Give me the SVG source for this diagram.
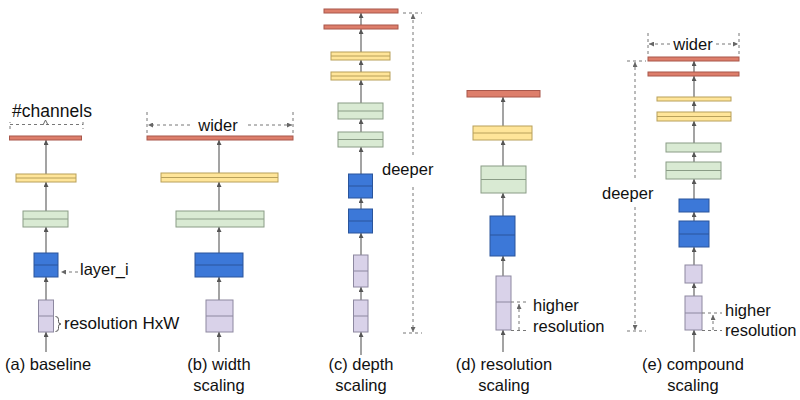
<svg xmlns="http://www.w3.org/2000/svg" width="800" height="400" viewBox="0 0 800 400">
<defs>
<marker id="ah" viewBox="0 0 6 6" refX="6" refY="3" markerWidth="5" markerHeight="5" markerUnits="userSpaceOnUse" orient="auto"><path d="M0,0 L6,3 L0,6 z" fill="#555"/></marker>
<marker id="dh" viewBox="0 0 6 6" refX="6" refY="3" markerWidth="5" markerHeight="5" markerUnits="userSpaceOnUse" orient="auto"><path d="M0,0 L6,3 L0,6 z" fill="#666"/></marker>
<style>
.red{fill:#dd7e6b;stroke:#a8574b;stroke-width:1}
.yel{fill:#ffe599;stroke:#b8a05a;stroke-width:1}
.grn{fill:#d9ead3;stroke:#8a9c86;stroke-width:1}
.blu{fill:#3c78d8;stroke:#2a559c;stroke-width:1}
.lav{fill:#d9d2e9;stroke:#8d88a0;stroke-width:1}
.mid{stroke-width:1;fill:none}
.conn line{stroke:#666;stroke-width:1.2;marker-end:url(#ah)}
.dash{stroke:#777;stroke-width:1;stroke-dasharray:3,3;fill:none}
.dashA{stroke:#777;stroke-width:1;stroke-dasharray:3,3;fill:none;marker-end:url(#dh)}
text{font-family:"Liberation Sans",Arial,sans-serif;font-size:16.5px;fill:#111}
.c{text-anchor:middle}
</style>
</defs>
<rect width="800" height="400" fill="#fff"/>

<!-- connectors -->
<g id="connectors" class="conn">
<!-- a -->
<line x1="46" y1="352" x2="46" y2="332"/>
<line x1="46" y1="300" x2="46" y2="277"/>
<line x1="46" y1="253" x2="46" y2="227"/>
<line x1="46" y1="211" x2="46" y2="182"/>
<line x1="46" y1="174" x2="46" y2="140"/>
<!-- b -->
<line x1="219" y1="352" x2="219" y2="332"/>
<line x1="219" y1="300" x2="219" y2="277"/>
<line x1="219" y1="253" x2="219" y2="227"/>
<line x1="219" y1="211" x2="219" y2="182"/>
<line x1="219" y1="173" x2="219" y2="140"/>
<!-- c -->
<line x1="361" y1="355" x2="361" y2="332"/>
<line x1="361" y1="300" x2="361" y2="287"/>
<line x1="361" y1="255" x2="361" y2="233"/>
<line x1="361" y1="209" x2="361" y2="198"/>
<line x1="361" y1="174" x2="361" y2="147"/>
<line x1="361" y1="132" x2="361" y2="119"/>
<line x1="361" y1="103" x2="361" y2="80"/>
<line x1="361" y1="72" x2="361" y2="60"/>
<line x1="361" y1="52" x2="361" y2="29"/>
<line x1="361" y1="25" x2="361" y2="13"/>
<!-- d -->
<line x1="503" y1="352" x2="503" y2="330"/>
<line x1="503" y1="276" x2="503" y2="256"/>
<line x1="503" y1="216" x2="503" y2="193"/>
<line x1="503" y1="166" x2="503" y2="140"/>
<line x1="503" y1="126" x2="503" y2="97"/>
<!-- e -->
<line x1="694" y1="352" x2="694" y2="330"/>
<line x1="694" y1="296" x2="694" y2="283"/>
<line x1="694" y1="265" x2="694" y2="247"/>
<line x1="694" y1="221" x2="694" y2="212"/>
<line x1="694" y1="199" x2="694" y2="179"/>
<line x1="694" y1="162" x2="694" y2="152"/>
<line x1="694" y1="143" x2="694" y2="121"/>
<line x1="694" y1="112" x2="694" y2="101"/>
<line x1="694" y1="97" x2="694" y2="76"/>
<line x1="694" y1="72" x2="694" y2="61"/>
</g>

<!-- (a) baseline -->
<g id="a-red"><rect class="red" x="9.5" y="136" width="72" height="4"/></g>
<g id="a-yellow"><rect class="yel" x="16" y="174" width="60" height="8"/><line class="mid" stroke="#b8a05a" x1="16" y1="178" x2="76" y2="178"/></g>
<g id="a-green"><rect class="grn" x="23" y="211" width="45" height="16"/><line class="mid" stroke="#8a9c86" x1="23" y1="219" x2="68" y2="219"/></g>
<g id="a-blue"><rect class="blu" x="34" y="253" width="24" height="24"/><line class="mid" stroke="#2a559c" x1="34" y1="265" x2="58" y2="265"/></g>
<g id="a-lav"><rect class="lav" x="38.5" y="300" width="15" height="32"/><line class="mid" stroke="#8d88a0" x1="38.5" y1="316" x2="53.5" y2="316"/></g>
<g id="a-annot">
<path class="dash" d="M10,129 V122 M10,124.5 H83 M83,122 V129"/>
<path d="M43,125 L45.5,120 L48,125" fill="none" stroke="#666" stroke-width="1"/>
<text class="c" x="52" y="117" style="font-size:17.5px">#channels</text>
<line class="dashA" x1="78" y1="272" x2="61" y2="272"/>
<text x="80" y="275">layer_i</text>
<path d="M55.5,316.5 q3,0 3,3 v2 q0,2.5 2.5,2.5 q-2.5,0 -2.5,2.5 v2 q0,3 -3,3" fill="none" stroke="#555" stroke-width="1"/>
<text x="64" y="329" style="font-size:17px">resolution HxW</text>
<text x="5" y="370">(a) baseline</text>
</g>

<!-- (b) width scaling -->
<g id="b-red"><rect class="red" x="147" y="136" width="146" height="4"/></g>
<g id="b-yellow"><rect class="yel" x="161" y="173" width="117" height="9"/><line class="mid" stroke="#b8a05a" x1="161" y1="177.5" x2="278" y2="177.5"/></g>
<g id="b-green"><rect class="grn" x="176" y="211" width="88" height="16"/><line class="mid" stroke="#8a9c86" x1="176" y1="219" x2="264" y2="219"/></g>
<g id="b-blue"><rect class="blu" x="195" y="253" width="48" height="24"/><line class="mid" stroke="#2a559c" x1="195" y1="265" x2="243" y2="265"/></g>
<g id="b-lav"><rect class="lav" x="206" y="300" width="27" height="32"/><line class="mid" stroke="#8d88a0" x1="206" y1="316" x2="233" y2="316"/></g>
<g id="b-annot">
<path class="dash" d="M147,112 V135 M293,112 V135"/>
<line class="dashA" x1="190" y1="125" x2="148" y2="125"/>
<line class="dashA" x1="248" y1="125" x2="292" y2="125"/>
<text class="c" x="218" y="131">wider</text>
<text class="c" x="219" y="370">(b) width</text>
<text class="c" x="219" y="391">scaling</text>
</g>

<!-- (c) depth scaling -->
<g id="c-red1"><rect class="red" x="324" y="9" width="74" height="4"/></g>
<g id="c-red2"><rect class="red" x="324" y="25" width="74" height="4"/></g>
<g id="c-yellow1"><rect class="yel" x="331" y="52" width="59" height="8"/><line class="mid" stroke="#b8a05a" x1="331" y1="56" x2="390" y2="56"/></g>
<g id="c-yellow2"><rect class="yel" x="331" y="72" width="59" height="8"/><line class="mid" stroke="#b8a05a" x1="331" y1="76" x2="390" y2="76"/></g>
<g id="c-green1"><rect class="grn" x="338" y="103" width="45" height="16"/><line class="mid" stroke="#8a9c86" x1="338" y1="111" x2="383" y2="111"/></g>
<g id="c-green2"><rect class="grn" x="338" y="132" width="45" height="15"/><line class="mid" stroke="#8a9c86" x1="338" y1="139.5" x2="383" y2="139.5"/></g>
<g id="c-blue1"><rect class="blu" x="348.5" y="174" width="24" height="24"/><line class="mid" stroke="#2a559c" x1="348.5" y1="186" x2="372.5" y2="186"/></g>
<g id="c-blue2"><rect class="blu" x="348.5" y="209" width="24" height="24"/><line class="mid" stroke="#2a559c" x1="348.5" y1="221" x2="372.5" y2="221"/></g>
<g id="c-lav1"><rect class="lav" x="353.5" y="255" width="14.5" height="32"/><line class="mid" stroke="#8d88a0" x1="353.5" y1="271" x2="368" y2="271"/></g>
<g id="c-lav2"><rect class="lav" x="353.5" y="300" width="14.5" height="32"/><line class="mid" stroke="#8d88a0" x1="353.5" y1="316" x2="368" y2="316"/></g>
<g id="c-annot">
<path class="dash" d="M403,13 H422 M403,333 H422"/>
<line class="dashA" x1="413" y1="155" x2="413" y2="14"/>
<line class="dashA" x1="413" y1="187" x2="413" y2="332"/>
<text x="382" y="175">deeper</text>
<text class="c" x="361" y="370">(c) depth</text>
<text class="c" x="361" y="391">scaling</text>
</g>

<!-- (d) resolution scaling -->
<g id="d-red"><rect class="red" x="467" y="90.5" width="73" height="6.5"/></g>
<g id="d-yellow"><rect class="yel" x="473" y="126" width="59" height="14"/><line class="mid" stroke="#b8a05a" x1="473" y1="133" x2="532" y2="133"/></g>
<g id="d-green"><rect class="grn" x="481" y="166" width="45" height="27"/><line class="mid" stroke="#8a9c86" x1="481" y1="179.5" x2="526" y2="179.5"/></g>
<g id="d-blue"><rect class="blu" x="490" y="216" width="25" height="40"/><line class="mid" stroke="#2a559c" x1="490" y1="235" x2="515" y2="235"/></g>
<g id="d-lav"><rect class="lav" x="496" y="276" width="15" height="54"/><line class="mid" stroke="#8d88a0" x1="496" y1="302" x2="511" y2="302"/></g>
<g id="d-annot">
<path class="dash" d="M511,302 H529 M511,330.5 H529"/>
<line class="dashA" x1="519" y1="330" x2="519" y2="304"/>
<text x="533" y="311">higher</text>
<text x="533" y="332">resolution</text>
<text class="c" x="504" y="370">(d) resolution</text>
<text class="c" x="504" y="391">scaling</text>
</g>

<!-- (e) compound scaling -->
<g id="e-red1"><rect class="red" x="648" y="57" width="91" height="4"/></g>
<g id="e-red2"><rect class="red" x="648" y="72" width="91" height="4"/></g>
<g id="e-yellow1"><rect class="yel" x="657" y="97" width="74" height="4"/></g>
<g id="e-yellow2"><rect class="yel" x="657" y="112" width="74" height="9"/><line class="mid" stroke="#b8a05a" x1="657" y1="116.5" x2="731" y2="116.5"/></g>
<g id="e-green1"><rect class="grn" x="666" y="143" width="55" height="9"/></g>
<g id="e-green2"><rect class="grn" x="666" y="162" width="55" height="17"/><line class="mid" stroke="#8a9c86" x1="666" y1="170.5" x2="721" y2="170.5"/></g>
<g id="e-blue1"><rect class="blu" x="679" y="199" width="30" height="13"/></g>
<g id="e-blue2"><rect class="blu" x="679" y="221" width="30" height="26"/><line class="mid" stroke="#2a559c" x1="679" y1="234" x2="709" y2="234"/></g>
<g id="e-lav1"><rect class="lav" x="685" y="265" width="17" height="18"/></g>
<g id="e-lav2"><rect class="lav" x="685" y="296" width="17" height="34"/><line class="mid" stroke="#8d88a0" x1="685" y1="313" x2="702" y2="313"/></g>
<g id="e-annot">
<path class="dash" d="M648,33 V56 M739,33 V56"/>
<line class="dashA" x1="670" y1="44" x2="649" y2="44"/>
<line class="dashA" x1="716" y1="44" x2="738" y2="44"/>
<text class="c" x="693" y="50">wider</text>
<path class="dash" d="M627,61 H646 M627,331 H646"/>
<line class="dashA" x1="635" y1="178" x2="635" y2="62"/>
<line class="dashA" x1="635" y1="207" x2="635" y2="330"/>
<text x="602" y="199">deeper</text>
<path class="dash" d="M702,313 H722 M702,330.5 H722"/>
<line class="dashA" x1="713" y1="330" x2="713" y2="315"/>
<text x="725" y="316">higher</text>
<text x="725" y="336">resolution</text>
<text class="c" x="693" y="370">(e) compound</text>
<text class="c" x="693" y="391">scaling</text>
</g>
</svg>
